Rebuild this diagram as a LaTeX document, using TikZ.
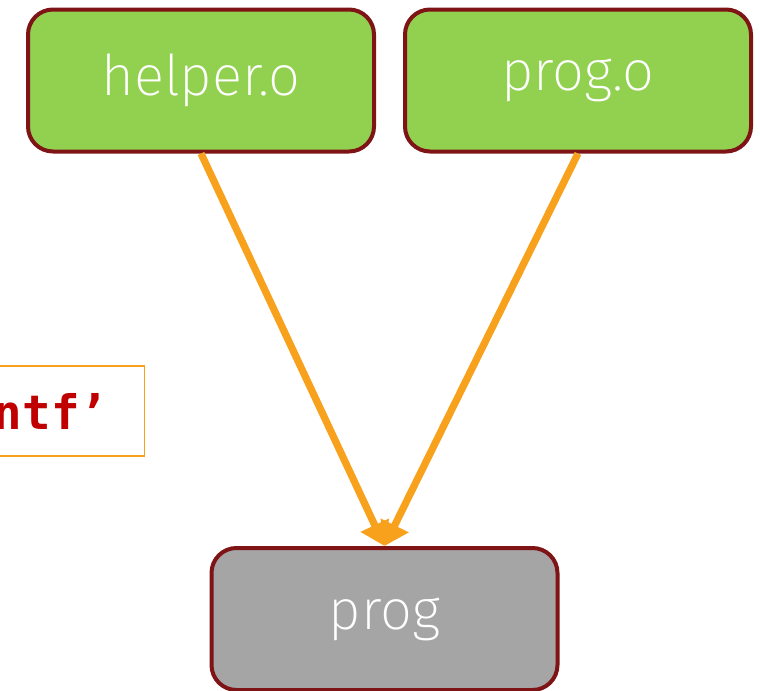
\documentclass[tikz,border=0pt]{standalone}
\usepackage{fontspec}
\usepackage{xcolor}
\usepackage{tikz}
\usetikzlibrary{positioning,arrows.meta}
\setmainfont{Fira Sans}
\newfontfamily\boxfont{Fira Sans}[UprightFont={* ExtraLight}]
\setmonofont{DejaVu Sans Mono}

\definecolor{objgreen}{HTML}{92D050}
\definecolor{exegrey}{HTML}{A5A5A5}
\definecolor{boxrim}{HTML}{7F1416}
\definecolor{linkorange}{HTML}{F7A11D}
\definecolor{errred}{HTML}{C00000}

\tikzset{
    filebox/.style={draw=boxrim, line width=0.08cm, rounded corners=0.5cm,
        minimum width=6.92cm, minimum height=2.84cm, text=white,
        font=\boxfont\fontsize{32}{36}\selectfont},
    objfile/.style={filebox, fill=objgreen},
    exefile/.style={filebox, fill=exegrey},
    linkarrow/.style={draw=linkorange, line width=0.145cm,
        -{Triangle[length=0.46cm,width=0.6cm]}},
    errbox/.style={draw=linkorange, line width=0.03cm, fill=white,
        text width=8cm, align=right, minimum height=1.8cm, inner xsep=0.72cm,
        text=errred, font=\ttfamily\bfseries\fontsize{27}{32}\selectfont}
}

\begin{document}
\begin{tikzpicture}
    \useasboundingbox (0,0) rectangle (15.2,-13.82);

    % Error message (cut off at the left)
    \node[errbox, anchor=east] (err) at (2.9,-8.22) {ntf’};

    % Object files
    \node[objfile] (helper) at (4.02,-1.61) {helper.o};
    \node[objfile, right=0.54cm of helper] (progo) {prog.o};

    % Executable
    \node[exefile] (prog) at (7.69,-12.38) {prog};

    % Linking
    \draw[linkarrow] (helper.south) -- (prog.north);
    \draw[linkarrow] (progo.south) -- (prog.north);
\end{tikzpicture}
\end{document}
